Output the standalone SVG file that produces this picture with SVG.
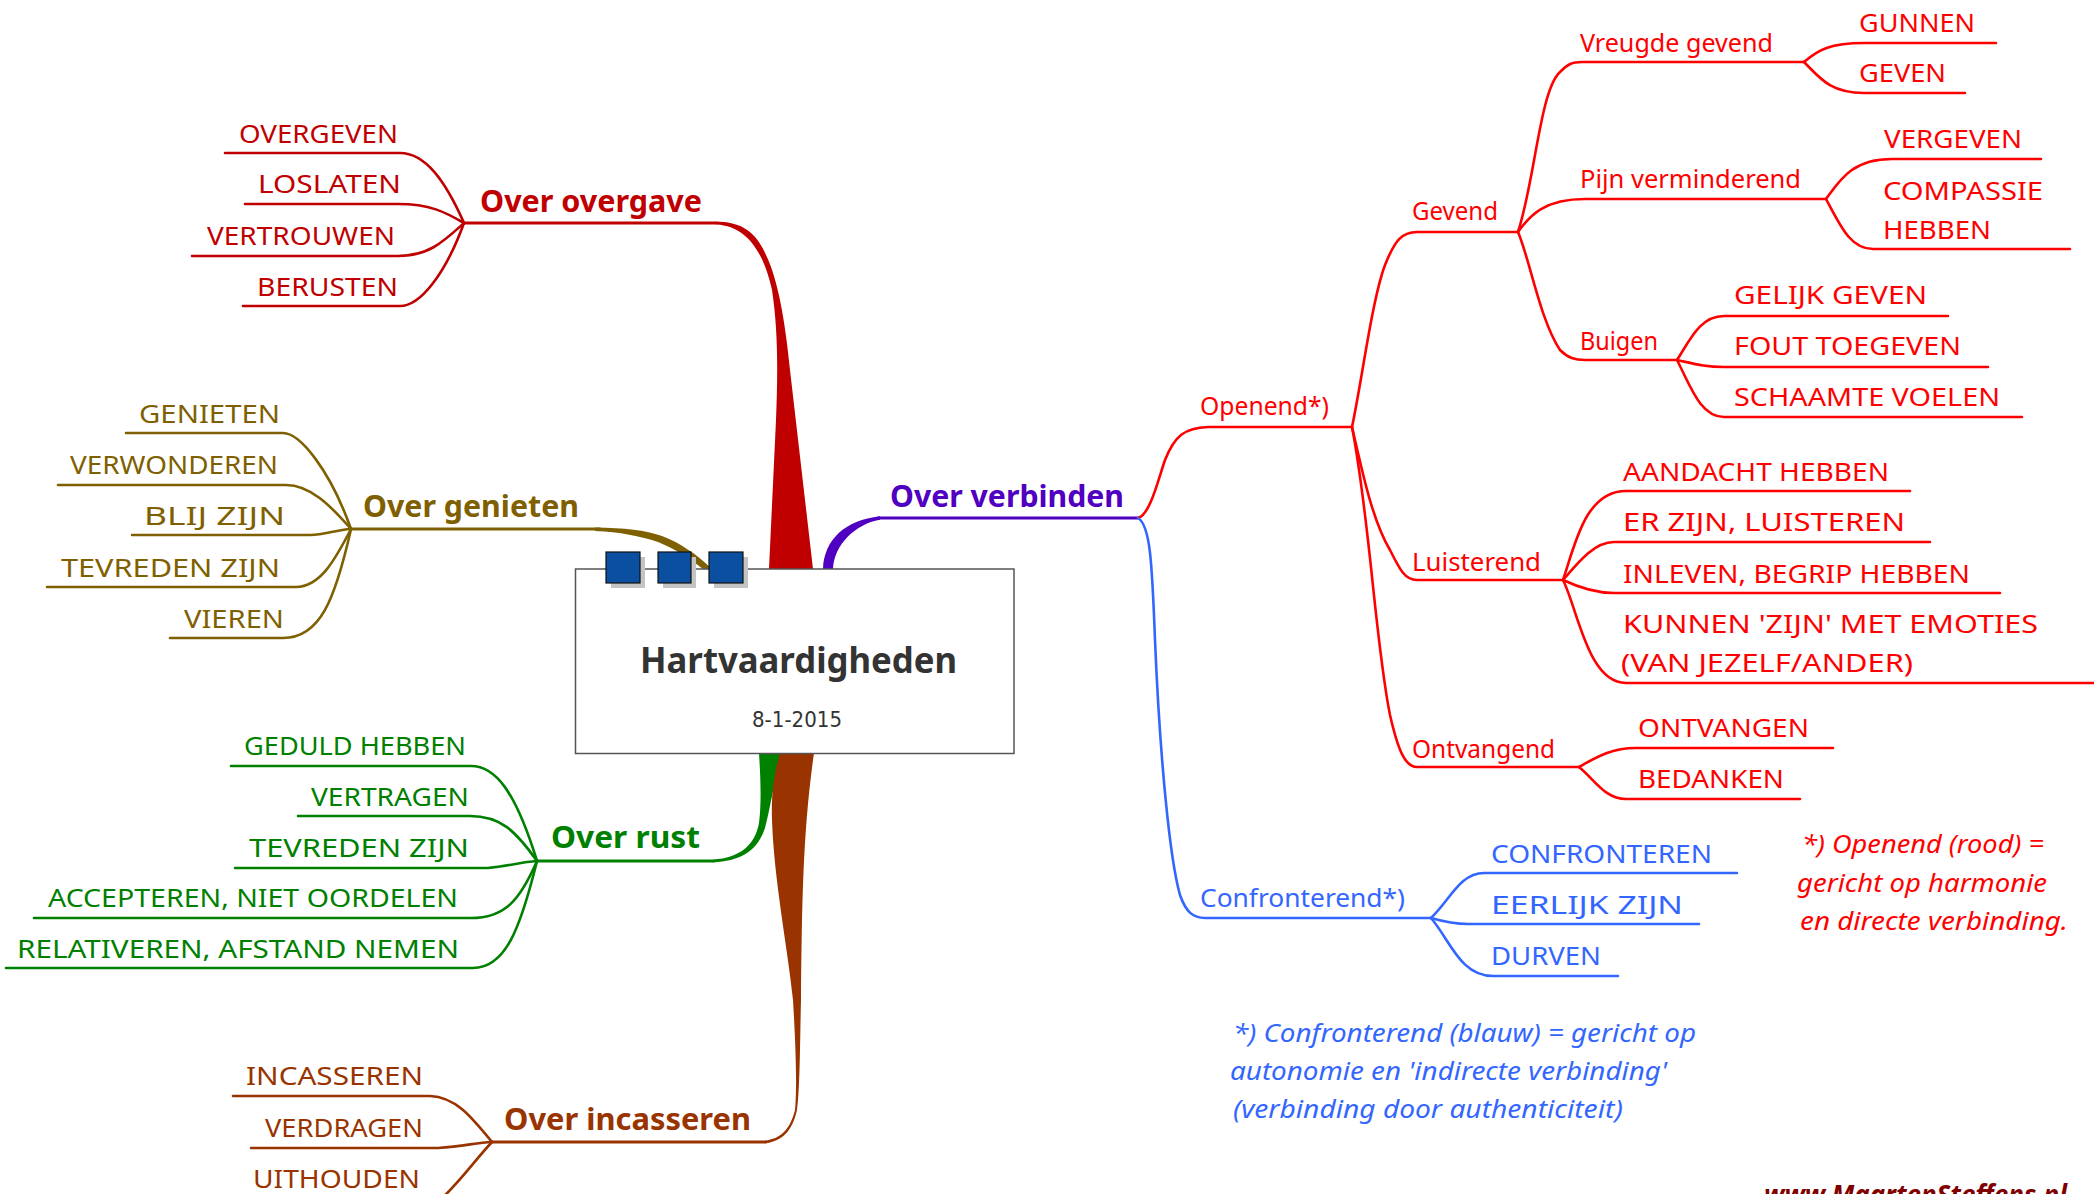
<svg xmlns="http://www.w3.org/2000/svg" width="2094" height="1194" viewBox="0 0 2094 1194">
<style>
text{font-family:"Noto Sans","DejaVu Sans",sans-serif;font-size:26px}
.b{font-weight:bold;font-size:30px}
.ln{fill:none;stroke-width:2.6;stroke-linecap:round;stroke-linejoin:round}
.m{stroke-width:3.2}
.c1{fill:#c00000}.s1{stroke:#c00000}
.c2{fill:#7f6000}.s2{stroke:#7f6000}
.c3{fill:#008000}.s3{stroke:#008000}
.c4{fill:#993300}.s4{stroke:#993300}
.c5{fill:#5000c0}.s5{stroke:#5000c0}
.c6{fill:#ff0000}.s6{stroke:#ff0000}
.c7{fill:#3366ff}.s7{stroke:#3366ff}
.it{font-style:italic}
.sq{fill:#0b50a0;stroke:#111;stroke-width:1.2}
.sh{fill:#c4c4c4}
</style>
<rect width="2094" height="1194" fill="#fff"/>
<g id="connectors">
  <!-- Over overgave -->
  <path class="ln m s1" d="M464 223 H716"/>
  <path class="c1" d="M716 221.5 C740 222,755 230,766 255 C778 280,785 320,790 370 L813 569 L769 569 L776 420 C778 370,778 330,772 290 C765 258,750 226,716 224.5 Z"/>
  <path class="ln s1" d="M225 153 H400 C425 153,445 180,464 223"/>
  <path class="ln s1" d="M245 204 H398 C430 204,445 212,464 223"/>
  <path class="ln s1" d="M192 256 H398 C430 256,445 240,464 223"/>
  <path class="ln s1" d="M243 306 H400 C420 306,445 275,464 223"/>
  <!-- Over genieten -->
  <path class="ln m s2" d="M351 529 H600"/>
  <path class="c2" d="M595 527.5 C625 528,645 530,662 536 C680 543,695 553,712 569 L703 569 C688 557,675 549,658 542 C640 536,620 532,595 531 Z"/>
  <path class="ln s2" d="M126 433 H283 C300 433,330 470,351 529"/>
  <path class="ln s2" d="M58 485 H286 C310 485,330 505,351 529"/>
  <path class="ln s2" d="M132 535 H310 C325 535,335 530,351 529"/>
  <path class="ln s2" d="M47 587 H296 C320 587,335 560,351 529"/>
  <path class="ln s2" d="M170 638 H283 C320 638,335 600,351 529"/>
  <!-- Over rust -->
  <path class="ln m s3" d="M537 861 H713"/>
  <path class="c3" d="M713 862.5 C740 861,757 852,765 828 C770 810,772 790,783 753 L759 753 C760 770,762 800,759 823 C755 845,740 858,713 859.5 Z"/>
  <path class="ln s3" d="M231 766 H471 C495 766,515 790,537 861"/>
  <path class="ln s3" d="M298 816 H470 C500 816,515 830,537 861"/>
  <path class="ln s3" d="M235 868 H488 C510 866,520 862,537 861"/>
  <path class="ln s3" d="M34 918 H471 C505 918,520 900,537 861"/>
  <path class="ln s3" d="M6 968 H473 C505 968,520 930,537 861"/>
  <!-- Over incasseren -->
  <path class="ln m s4" d="M492 1142 H765"/>
  <path class="c4" d="M765 1143.5 C782 1141,792 1132,797 1110 C800 1090,800 1040,801 1000 C802 900,803 830,814 753 L780 753 C775 770,771 790,772 820 C774 880,788 950,793 1000 C796 1050,797 1090,795 1110 C790 1130,780 1139,765 1140.5 Z"/>
  <path class="ln s4" d="M233 1096 H430 C455 1097,470 1115,492 1142"/>
  <path class="ln s4" d="M251 1148 H438 C465 1146,475 1143,492 1142"/>
  <path class="ln s4" d="M492 1142 C475 1160,460 1182,440 1200"/>
  <!-- Over verbinden -->
  <path class="c5" d="M823 569 C824 540,845 520,880 516.3 L880 519.7 C855 524,834 545,833 569 Z"/>
  <path class="ln m s5" d="M878 518 H1138"/>
  <!-- Openend -->
  <path class="ln s6" d="M1138 518 C1150 515,1158 480,1165 460 C1175 435,1185 428,1208 427 H1352"/>
  <path class="ln s6" d="M1352 427 C1362 380,1372 300,1385 265 C1395 240,1402 232,1417 232 H1518"/>
  <path class="ln s6" d="M1352 427 C1362 470,1372 520,1390 550 C1400 570,1405 580,1417 580 H1563"/>
  <path class="ln s6" d="M1352 427 C1370 520,1375 640,1390 715 C1398 750,1405 767,1417 767 H1579"/>
  <path class="ln s6" d="M1518 232 C1535 180,1540 90,1560 72 C1568 64,1572 62,1582 62 H1804"/>
  <path class="ln s6" d="M1518 232 C1530 215,1545 199,1585 199 H1826"/>
  <path class="ln s6" d="M1518 232 C1530 260,1540 320,1560 350 C1568 358,1575 360,1585 360 H1677"/>
  <path class="ln s6" d="M1804 62 C1818 50,1830 43,1864 43 H1996"/>
  <path class="ln s6" d="M1804 62 C1820 78,1830 93,1864 93 H1965"/>
  <path class="ln s6" d="M1826 199 C1840 180,1852 159,1892 159 H2041"/>
  <path class="ln s6" d="M1826 199 C1840 225,1850 249,1873 249 H2070"/>
  <path class="ln s6" d="M1677 360 C1690 340,1700 316,1724 316 H1948"/>
  <path class="ln s6" d="M1677 360 C1695 364,1705 367,1724 367 H1988"/>
  <path class="ln s6" d="M1677 360 C1690 385,1700 417,1724 417 H2022"/>
  <path class="ln s6" d="M1563 580 C1575 545,1585 491,1626 491 H1910"/>
  <path class="ln s6" d="M1563 580 C1580 560,1595 542,1614 542 H1930"/>
  <path class="ln s6" d="M1563 580 C1580 588,1595 593,1614 593 H2000"/>
  <path class="ln s6" d="M1563 580 C1578 610,1588 683,1626 683 H2094"/>
  <path class="ln s6" d="M1579 767 C1595 758,1610 748,1636 748 H1833"/>
  <path class="ln s6" d="M1579 767 C1595 780,1605 799,1626 799 H1800"/>
  <!-- Confronterend -->
  <path class="ln s7" d="M1138 518 C1150 525,1152 560,1155 640 C1160 760,1170 860,1180 895 C1186 912,1193 918,1205 918 H1431"/>
  <path class="ln s7" d="M1431 918 C1450 900,1460 873,1484 873 H1737"/>
  <path class="ln s7" d="M1431 918 C1445 922,1455 924,1468 924 H1699"/>
  <path class="ln s7" d="M1431 918 C1450 940,1460 976,1493 976 H1618"/>
</g>
<g id="center">
  <rect x="575.5" y="569" width="438.5" height="184.5" fill="#fff" stroke="#555" stroke-width="1.5"/>
  <rect class="sh" x="611" y="557" width="34" height="31"/>
  <rect class="sh" x="663" y="557" width="33" height="31"/>
  <rect class="sh" x="714" y="557" width="34" height="31"/>
  <rect class="sq" x="606" y="552" width="34" height="31"/>
  <rect class="sq" x="658" y="552" width="33" height="31"/>
  <rect class="sq" x="709" y="552" width="34" height="31"/>
  <text x="640" y="673" style="font-size:36px;font-weight:bold;fill:#333" textLength="317" lengthAdjust="spacingAndGlyphs">Hartvaardigheden</text>
  <text x="752" y="727" style="font-size:22px;fill:#333;font-family:'DejaVu Sans',sans-serif" textLength="90" lengthAdjust="spacingAndGlyphs">8-1-2015</text>
</g>
<g id="over-overgave" class="c1">
  <text class="b" x="480" y="212" textLength="222" lengthAdjust="spacingAndGlyphs">Over overgave</text>
  <text x="239" y="143" textLength="159" lengthAdjust="spacingAndGlyphs">OVERGEVEN</text>
  <text x="258" y="193" textLength="143" lengthAdjust="spacingAndGlyphs">LOSLATEN</text>
  <text x="207" y="245" textLength="188" lengthAdjust="spacingAndGlyphs">VERTROUWEN</text>
  <text x="257" y="296" textLength="141" lengthAdjust="spacingAndGlyphs">BERUSTEN</text>
</g>
<g id="over-genieten" class="c2">
  <text class="b" x="363" y="517" textLength="216" lengthAdjust="spacingAndGlyphs">Over genieten</text>
  <text x="139" y="423" textLength="141" lengthAdjust="spacingAndGlyphs">GENIETEN</text>
  <text x="70" y="474" textLength="208" lengthAdjust="spacingAndGlyphs">VERWONDEREN</text>
  <text x="144" y="525" textLength="141" lengthAdjust="spacingAndGlyphs">BLIJ ZIJN</text>
  <text x="61" y="577" textLength="219" lengthAdjust="spacingAndGlyphs">TEVREDEN ZIJN</text>
  <text x="184" y="628" textLength="100" lengthAdjust="spacingAndGlyphs">VIEREN</text>
</g>
<g id="over-rust" class="c3">
  <text class="b" x="551" y="848" textLength="149" lengthAdjust="spacingAndGlyphs">Over rust</text>
  <text x="244" y="755" textLength="222" lengthAdjust="spacingAndGlyphs">GEDULD HEBBEN</text>
  <text x="311" y="806" textLength="158" lengthAdjust="spacingAndGlyphs">VERTRAGEN</text>
  <text x="249" y="857" textLength="220" lengthAdjust="spacingAndGlyphs">TEVREDEN ZIJN</text>
  <text x="48" y="907" textLength="410" lengthAdjust="spacingAndGlyphs">ACCEPTEREN, NIET OORDELEN</text>
  <text x="17" y="958" textLength="442" lengthAdjust="spacingAndGlyphs">RELATIVEREN, AFSTAND NEMEN</text>
</g>
<g id="over-incasseren" class="c4">
  <text class="b" x="504" y="1130" textLength="247" lengthAdjust="spacingAndGlyphs">Over incasseren</text>
  <text x="246" y="1085" textLength="177" lengthAdjust="spacingAndGlyphs">INCASSEREN</text>
  <text x="265" y="1137" textLength="158" lengthAdjust="spacingAndGlyphs">VERDRAGEN</text>
  <text x="253" y="1188" textLength="167" lengthAdjust="spacingAndGlyphs">UITHOUDEN</text>
</g>
<g id="over-verbinden" class="c5">
  <text class="b" x="890" y="507" textLength="234" lengthAdjust="spacingAndGlyphs">Over verbinden</text>
</g>
<g id="openend" class="c6">
  <text x="1200" y="415" textLength="129" lengthAdjust="spacingAndGlyphs">Openend*)</text>
</g>
<g id="gevend" class="c6">
  <text x="1412" y="220" textLength="86" lengthAdjust="spacingAndGlyphs">Gevend</text>
</g>
<g id="vreugde-gevend" class="c6">
  <text x="1580" y="52" textLength="193" lengthAdjust="spacingAndGlyphs">Vreugde gevend</text>
  <text x="1859" y="32" textLength="116" lengthAdjust="spacingAndGlyphs">GUNNEN</text>
  <text x="1859" y="82" textLength="87" lengthAdjust="spacingAndGlyphs">GEVEN</text>
</g>
<g id="pijn-verminderend" class="c6">
  <text x="1580" y="188" textLength="221" lengthAdjust="spacingAndGlyphs">Pijn verminderend</text>
  <text x="1884" y="148" textLength="138" lengthAdjust="spacingAndGlyphs">VERGEVEN</text>
  <text x="1883" y="200" textLength="160" lengthAdjust="spacingAndGlyphs">COMPASSIE</text>
  <text x="1883" y="239" textLength="108" lengthAdjust="spacingAndGlyphs">HEBBEN</text>
</g>
<g id="buigen" class="c6">
  <text x="1580" y="350" textLength="78" lengthAdjust="spacingAndGlyphs">Buigen</text>
  <text x="1734" y="304" textLength="193" lengthAdjust="spacingAndGlyphs">GELIJK GEVEN</text>
  <text x="1734" y="355" textLength="227" lengthAdjust="spacingAndGlyphs">FOUT TOEGEVEN</text>
  <text x="1734" y="406" textLength="266" lengthAdjust="spacingAndGlyphs">SCHAAMTE VOELEN</text>
</g>
<g id="luisterend" class="c6">
  <text x="1412" y="571" textLength="129" lengthAdjust="spacingAndGlyphs">Luisterend</text>
  <text x="1623" y="481" textLength="266" lengthAdjust="spacingAndGlyphs">AANDACHT HEBBEN</text>
  <text x="1623" y="531" textLength="282" lengthAdjust="spacingAndGlyphs">ER ZIJN, LUISTEREN</text>
  <text x="1623" y="583" textLength="347" lengthAdjust="spacingAndGlyphs">INLEVEN, BEGRIP HEBBEN</text>
  <text x="1623" y="633" textLength="415" lengthAdjust="spacingAndGlyphs">KUNNEN 'ZIJN' MET EMOTIES</text>
  <text x="1621" y="672" textLength="292" lengthAdjust="spacingAndGlyphs">(VAN JEZELF/ANDER)</text>
</g>
<g id="ontvangend" class="c6">
  <text x="1412" y="758" textLength="143" lengthAdjust="spacingAndGlyphs">Ontvangend</text>
  <text x="1638" y="737" textLength="171" lengthAdjust="spacingAndGlyphs">ONTVANGEN</text>
  <text x="1638" y="788" textLength="146" lengthAdjust="spacingAndGlyphs">BEDANKEN</text>
</g>
<g id="confronterend" class="c7">
  <text x="1200" y="907" textLength="205" lengthAdjust="spacingAndGlyphs">Confronterend*)</text>
  <text x="1491" y="863" textLength="221" lengthAdjust="spacingAndGlyphs">CONFRONTEREN</text>
  <text x="1491" y="914" textLength="192" lengthAdjust="spacingAndGlyphs">EERLIJK ZIJN</text>
  <text x="1491" y="965" textLength="110" lengthAdjust="spacingAndGlyphs">DURVEN</text>
</g>
<g id="note-openend" class="c6 it">
  <text class="it" x="1802" y="853" textLength="242" lengthAdjust="spacingAndGlyphs">*) Openend (rood) =</text>
  <text class="it" x="1797" y="892" textLength="250" lengthAdjust="spacingAndGlyphs">gericht op harmonie</text>
  <text class="it" x="1800" y="930" textLength="268" lengthAdjust="spacingAndGlyphs">en directe verbinding.</text>
</g>
<g id="note-confronterend" class="c7">
  <text class="it" x="1233" y="1042" textLength="463" lengthAdjust="spacingAndGlyphs">*) Confronterend (blauw) = gericht op</text>
  <text class="it" x="1230" y="1080" textLength="437" lengthAdjust="spacingAndGlyphs">autonomie en 'indirecte verbinding'</text>
  <text class="it" x="1233" y="1118" textLength="390" lengthAdjust="spacingAndGlyphs">(verbinding door authenticiteit)</text>
</g>
<g id="watermark">
  <text x="1764" y="1204" style="font-size:27px;font-weight:bold;font-style:italic;fill:#800000" textLength="303" lengthAdjust="spacingAndGlyphs">www.MaartenSteffens.nl</text>
</g>
</svg>
